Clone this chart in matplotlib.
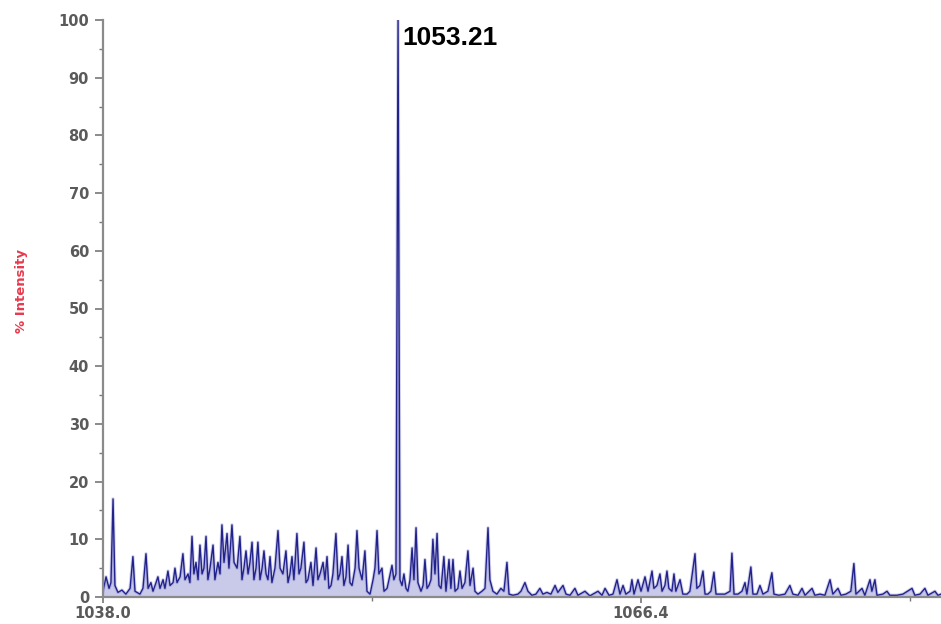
import matplotlib
matplotlib.use("Agg")
import matplotlib.pyplot as plt
from matplotlib.ticker import MultipleLocator, FixedLocator

# ---- data (m/z, % intensity) ----
mz = [
    1038.00, 1038.16, 1038.32, 1038.42, 1038.53, 1038.63, 1038.79, 1039.00, 1039.21, 1039.43,
    1039.58, 1039.69, 1039.95, 1040.11, 1040.27, 1040.38, 1040.53, 1040.64, 1040.80, 1040.90,
    1041.01, 1041.17, 1041.27, 1041.43, 1041.54, 1041.70, 1041.80, 1041.91, 1042.07, 1042.22,
    1042.33, 1042.49, 1042.59, 1042.70, 1042.80, 1042.91, 1043.02, 1043.12, 1043.23, 1043.33,
    1043.44, 1043.54, 1043.65, 1043.81, 1043.91, 1044.07, 1044.18, 1044.28, 1044.39, 1044.55,
    1044.65, 1044.81, 1044.92, 1045.08, 1045.23, 1045.34, 1045.44, 1045.55, 1045.66, 1045.76,
    1045.87, 1045.97, 1046.08, 1046.18, 1046.29, 1046.40, 1046.50, 1046.61, 1046.71, 1046.82,
    1046.92, 1047.08, 1047.24, 1047.35, 1047.50, 1047.66, 1047.77, 1047.87, 1047.98, 1048.08,
    1048.24, 1048.35, 1048.45, 1048.61, 1048.72, 1048.82, 1048.98, 1049.09, 1049.25, 1049.35,
    1049.46, 1049.62, 1049.72, 1049.83, 1049.93, 1050.04, 1050.14, 1050.30, 1050.41, 1050.51,
    1050.62, 1050.72, 1050.83, 1050.94, 1051.04, 1051.15, 1051.31, 1051.41, 1051.52, 1051.68,
    1051.83, 1051.94, 1052.10, 1052.26, 1052.36, 1052.47, 1052.57, 1052.73, 1052.84, 1053.00,
    1053.10, 1053.26, 1053.36, 1053.47, 1053.58, 1053.68, 1053.79, 1053.89, 1054.00, 1054.10,
    1054.21, 1054.32, 1054.42, 1054.53, 1054.63, 1054.79, 1054.90, 1055.00, 1055.11, 1055.21,
    1055.32, 1055.42, 1055.53, 1055.64, 1055.74, 1055.85, 1056.00, 1056.11, 1056.27, 1056.37,
    1056.48, 1056.59, 1056.74, 1056.85, 1056.96, 1057.11, 1057.27, 1057.38, 1057.54, 1057.64,
    1057.80, 1058.01, 1058.17, 1058.33, 1058.43, 1058.59, 1058.80, 1059.01, 1059.17, 1059.33,
    1059.44, 1059.65, 1059.91, 1060.07, 1060.28, 1060.44, 1060.65, 1060.86, 1061.07, 1061.23,
    1061.44, 1061.65, 1061.87, 1062.02, 1062.29, 1062.45, 1062.66, 1062.92, 1063.08, 1063.45,
    1063.71, 1064.14, 1064.35, 1064.51, 1064.72, 1064.93, 1065.14, 1065.30, 1065.46, 1065.61,
    1065.83, 1065.93, 1066.04, 1066.25, 1066.41, 1066.62, 1066.78, 1066.99, 1067.09, 1067.25,
    1067.41, 1067.52, 1067.67, 1067.78, 1067.88, 1068.04, 1068.15, 1068.25, 1068.47, 1068.62,
    1068.84, 1068.99, 1069.26, 1069.36, 1069.52, 1069.68, 1069.79, 1069.94, 1070.10, 1070.26,
    1070.37, 1070.58, 1070.84, 1071.11, 1071.21, 1071.32, 1071.53, 1071.74, 1071.90, 1072.00,
    1072.21, 1072.32, 1072.53, 1072.69, 1072.85, 1073.11, 1073.32, 1073.43, 1073.69, 1074.01,
    1074.27, 1074.43, 1074.70, 1074.91, 1075.07, 1075.44, 1075.59, 1075.86, 1076.12, 1076.39,
    1076.54, 1076.81, 1076.97, 1077.23, 1077.49, 1077.65, 1077.76, 1078.08, 1078.23, 1078.50,
    1078.60, 1078.76, 1078.87, 1079.18, 1079.40, 1079.55, 1079.92, 1080.24, 1080.72, 1080.87,
    1081.14, 1081.40, 1081.56, 1081.93, 1082.09, 1082.25,
]
intensity = [
    1.0, 3.5, 1.5, 2.5, 17.0, 2.0, 0.8, 1.2, 0.5, 1.5,
    7.0, 1.0, 0.5, 1.5, 7.5, 1.5, 2.5, 1.0, 2.5, 3.5,
    1.5, 3.0, 1.5, 4.5, 2.0, 2.5, 5.0, 2.5, 3.5, 7.5,
    3.0, 4.0, 2.5, 10.5, 4.0, 6.0, 3.0, 9.0, 4.0, 5.0,
    10.5, 3.0, 5.0, 9.0, 3.0, 6.0, 4.0, 12.5, 6.0, 11.0,
    5.0, 12.5, 6.0, 5.0, 10.5, 3.0, 5.0, 8.0, 4.0, 6.0,
    9.5, 3.0, 5.0, 9.5, 3.0, 5.0, 8.0, 4.0, 3.0, 7.0,
    2.5, 5.0, 11.5, 5.0, 4.0, 8.0, 2.5, 4.0, 7.0, 3.0,
    11.0, 4.0, 5.0, 9.5, 2.5, 3.0, 6.0, 2.0, 8.5, 3.0,
    4.0, 6.0, 3.0, 7.0, 1.5, 2.0, 4.0, 11.0, 3.0, 4.0,
    7.0, 2.0, 3.5, 9.0, 2.5, 2.0, 5.0, 11.5, 5.0, 3.0,
    8.0, 1.0, 0.5, 3.0, 5.0, 11.5, 4.0, 5.0, 1.0, 1.5,
    3.0, 5.5, 3.0, 4.0, 100.0, 3.0, 2.0, 4.0, 1.5, 1.0,
    3.0, 8.5, 3.0, 12.0, 2.5, 1.0, 2.0, 6.5, 1.5, 2.0,
    3.0, 10.0, 4.0, 11.0, 2.0, 1.5, 7.0, 1.0, 6.5, 1.5,
    6.5, 1.0, 1.5, 4.5, 1.5, 2.5, 8.0, 2.0, 5.0, 1.0,
    0.5, 1.0, 1.5, 12.0, 3.0, 1.0, 0.5, 1.5, 1.0, 6.0,
    0.5, 0.3, 0.5, 1.0, 2.5, 1.0, 0.3, 0.5, 1.5, 0.5,
    0.8, 0.5, 2.0, 0.8, 2.0, 0.5, 0.3, 1.5, 0.3, 1.0,
    0.2, 1.0, 0.3, 1.5, 0.3, 0.5, 3.0, 0.5, 2.0, 0.5,
    1.0, 3.0, 0.5, 3.0, 1.0, 3.5, 1.0, 4.5, 1.5, 2.0,
    4.0, 1.0, 2.0, 4.5, 1.5, 1.0, 4.0, 1.0, 3.0, 0.5,
    0.5, 1.0, 7.5, 1.5, 2.0, 4.5, 0.5, 0.5, 1.0, 4.3,
    0.5, 0.5, 0.5, 1.0, 7.6, 0.5, 0.5, 1.0, 2.5, 0.5,
    5.2, 0.5, 0.5, 2.0, 0.5, 1.0, 4.2, 0.5, 0.3, 0.5,
    2.0, 0.5, 0.3, 1.5, 0.3, 1.5, 0.3, 0.5, 0.3, 3.0,
    0.5, 1.5, 0.3, 0.5, 1.0, 5.8, 0.5, 1.5, 0.3, 3.0,
    1.0, 3.0, 0.3, 0.5, 1.0, 0.3, 0.3, 0.5, 1.5, 0.3,
    0.5, 1.5, 0.3, 1.0, 0.3, 0.5,
]

base_peak_mz = 1053.58
base_peak_label = "1053.21"
x_labels = ["1038.0", "1066.4"]
x_label_pos = [1038.0, 1066.4]
x_minor_pos = [1052.2, 1080.6]
y_major = [0, 10, 20, 30, 40, 50, 60, 70, 80, 90, 100]

fig = plt.figure(figsize=(9.41, 6.24), dpi=100)
ax = fig.add_axes([103 / 941, 27 / 624, 838 / 941, 577 / 624])

ax.fill_between(mz, 0, intensity, color="#c9c9ea", linewidth=0, zorder=1)
ax.plot(mz, intensity, color="#22228c", linewidth=1.0, zorder=2)
ax.plot(mz, intensity, color="#7c7cc4", linewidth=2.4, alpha=0.35, zorder=1.5)

ax.set_xlim(1038.0, 1082.25)
ax.set_ylim(0, 100)

for side in ("top", "right"):
    ax.spines[side].set_visible(False)
for side in ("left", "bottom"):
    ax.spines[side].set_color("#8a8a8a")
    ax.spines[side].set_linewidth(1.6)

ax.yaxis.set_major_locator(FixedLocator(y_major))
ax.yaxis.set_minor_locator(MultipleLocator(5))
ax.set_yticklabels([str(v) for v in y_major])
ax.xaxis.set_major_locator(FixedLocator(x_label_pos))
ax.xaxis.set_minor_locator(FixedLocator(x_minor_pos))
ax.set_xticklabels(x_labels)

ax.tick_params(axis="y", which="major", length=6, width=1.2, color="#777777",
               labelsize=10.5, labelcolor="#5a5a5a", pad=4)
ax.tick_params(axis="y", which="minor", length=3, width=1.0, color="#777777")
ax.tick_params(axis="x", which="major", length=4, width=1.2, color="#777777",
               labelsize=10.5, labelcolor="#5a5a5a", pad=2.5)
ax.tick_params(axis="x", which="minor", length=3, width=1.0, color="#777777")
for lab in ax.get_xticklabels() + ax.get_yticklabels():
    lab.set_fontweight("bold")

ax.set_ylabel("% Intensity", color="#e8394d", fontsize=9.5, fontweight="bold",
              labelpad=0)
ax.yaxis.set_label_coords(-75 / 838, 0.53)

ax.annotate(base_peak_label, xy=(base_peak_mz, 100), xytext=(3, -4),
            textcoords="offset points", ha="left", va="top",
            fontsize=19, fontweight="bold", color="black",
            family=["Liberation Sans", "DejaVu Sans"])

fig.savefig("out.png", dpi=100, facecolor="white")
